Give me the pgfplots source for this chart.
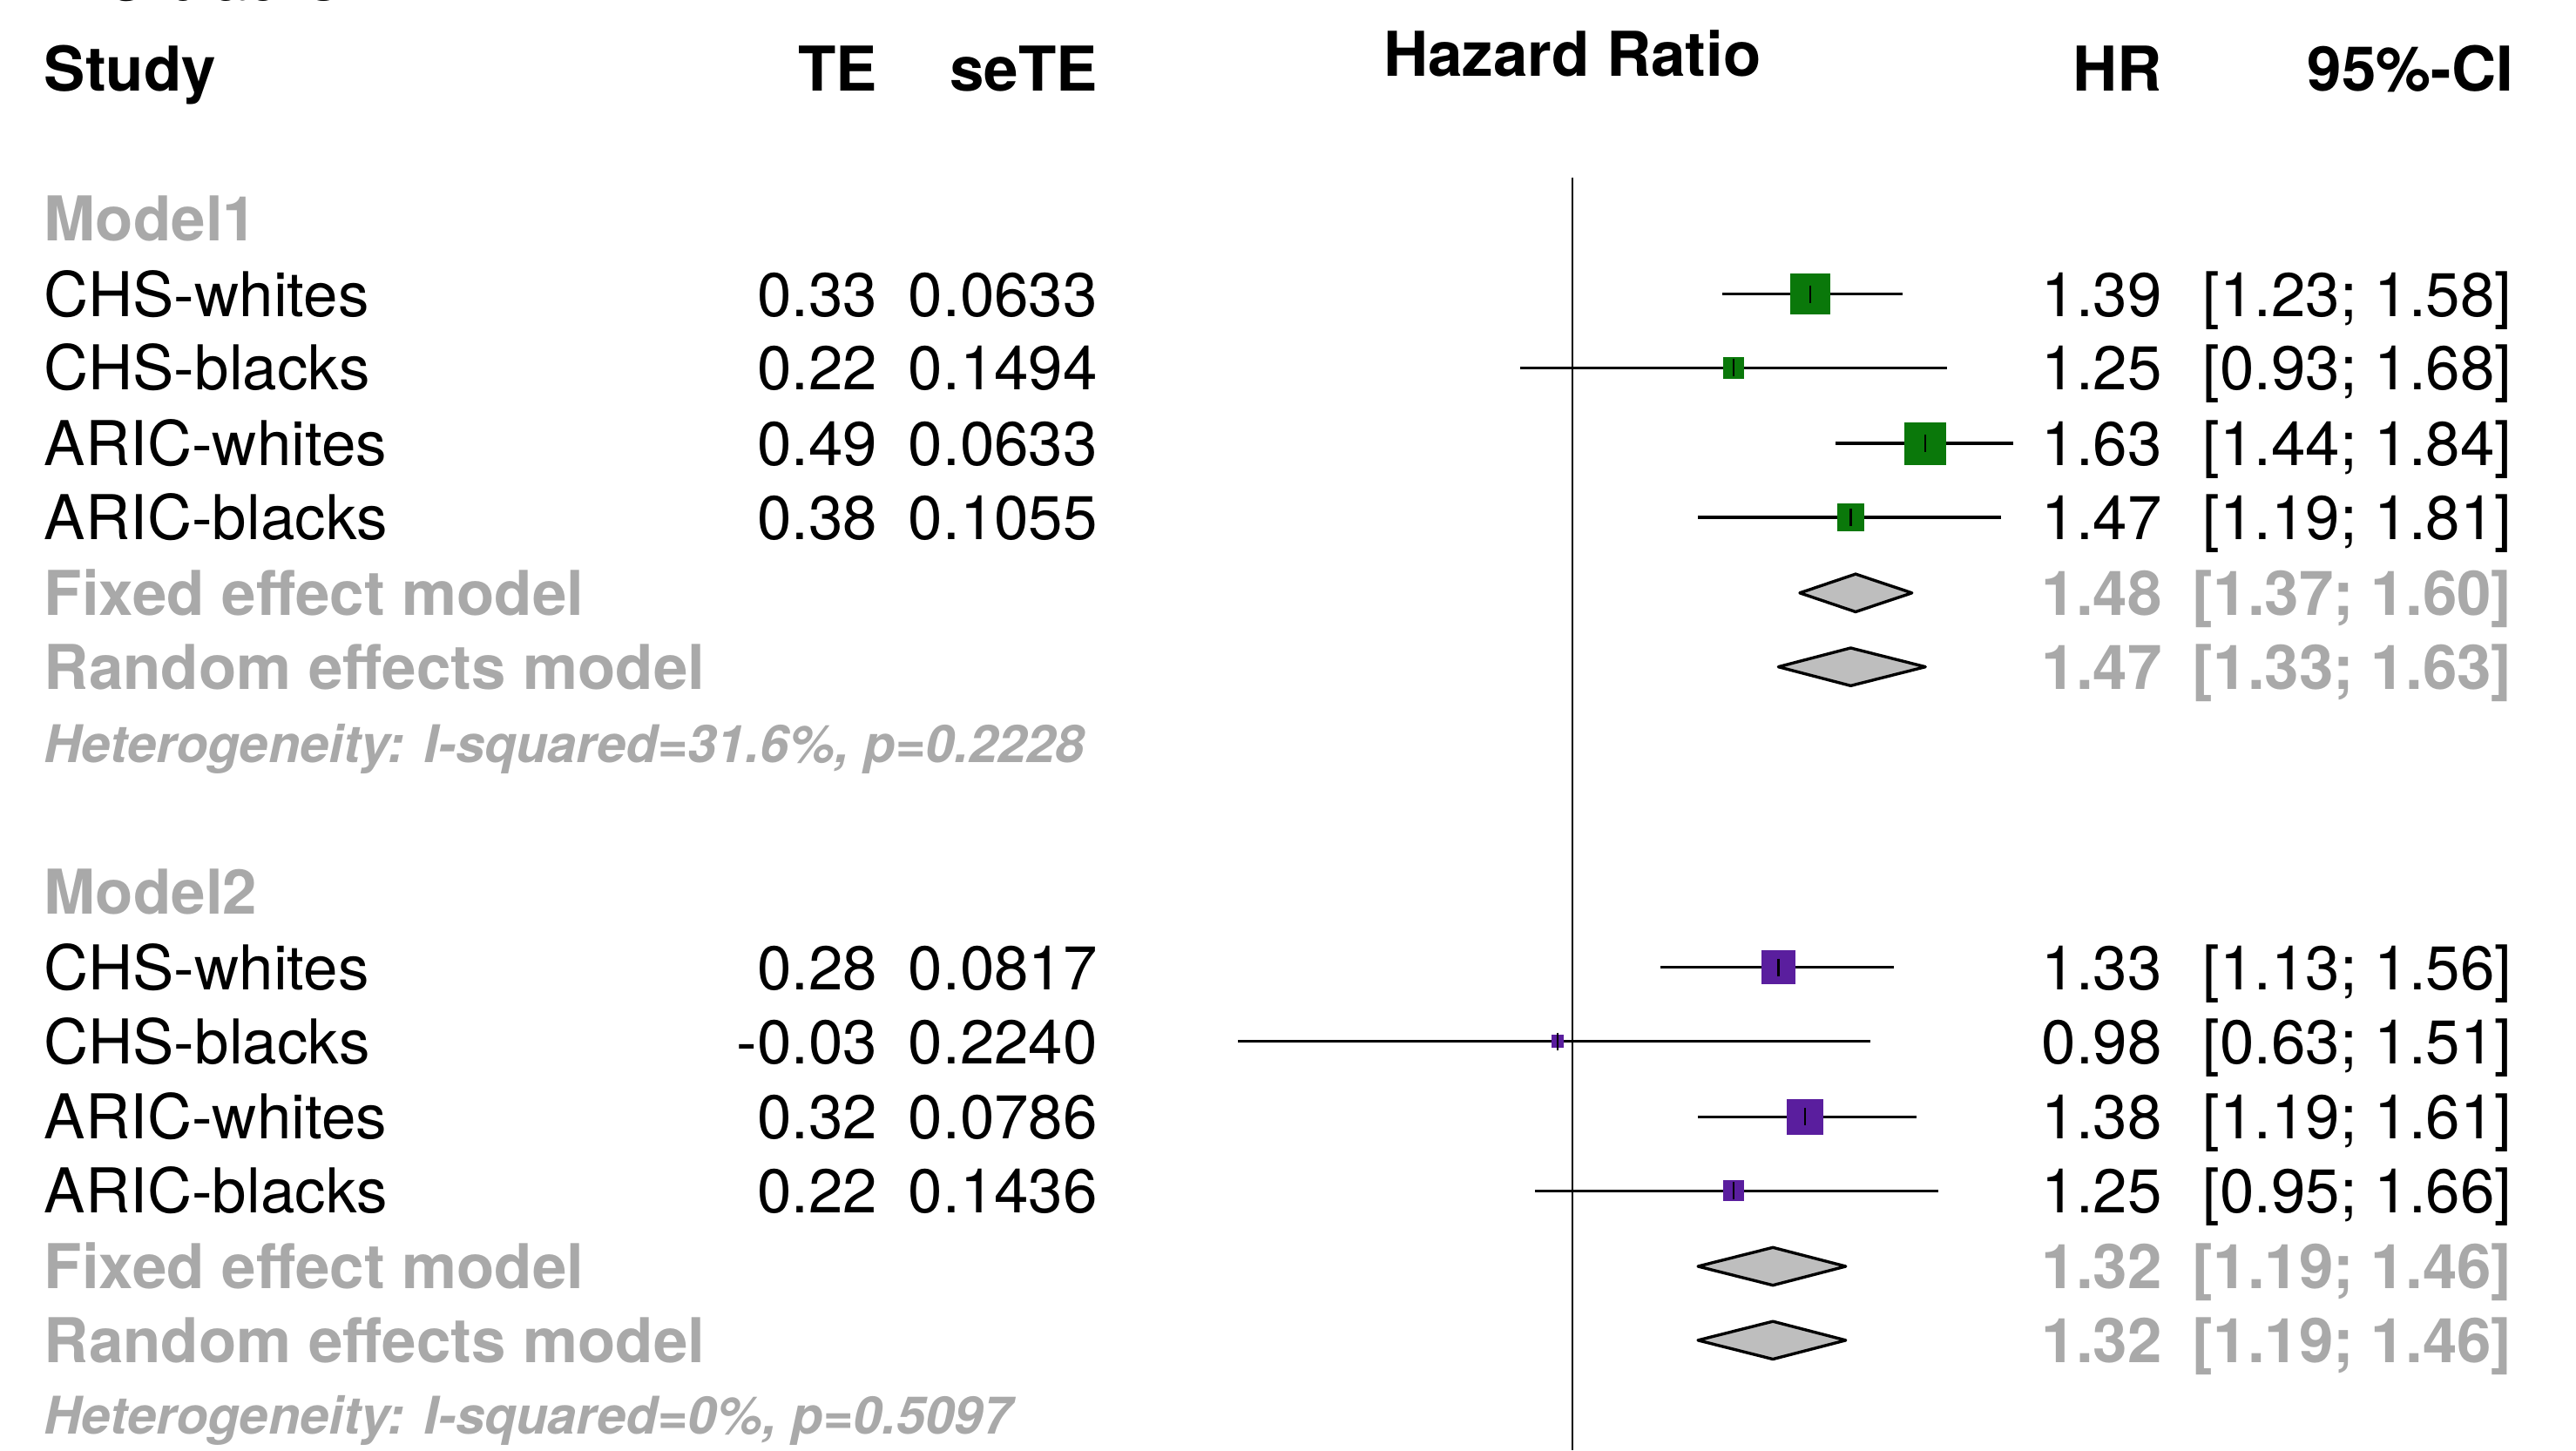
\documentclass[border=0pt]{standalone}
\usepackage{pgfplots}
\pgfplotsset{compat=1.18}
\usepackage{pgfplotstable}
\usepackage{fontspec}
\setmainfont{TeX Gyre Heros}
\definecolor{grn}{HTML}{0A780A}
\definecolor{prp}{HTML}{5A1E9E}
\definecolor{gtxt}{HTML}{A9A9A9}
\definecolor{dfill}{HTML}{BEBEBE}
\newcommand{\fs}{\fontsize{18.8}{22}\selectfont}
\newcommand{\fh}{\fontsize{15.8}{18}\selectfont}

% Model 1 studies: HR, CI, row position (y, downward), marker half-size (pt)
\pgfplotstableread{
hr   lo   hi   y   ms
1.39 1.23 1.58 179 6.0
1.25 0.93 1.68 224 3.0
1.63 1.44 1.84 270 6.25
1.47 1.19 1.81 315 4.0
}\mA
% Model 2 studies
\pgfplotstableread{
hr   lo   hi   y   ms
1.33 1.13 1.56 589 5.0
0.98 0.63 1.51 634 1.75
1.38 1.19 1.61 680 5.25
1.25 0.95 1.66 725 3.0
}\mB

\tikzset{t/.style={inner sep=0pt, outer sep=0pt, font=\fs}}
\newcommand{\studyrow}[6]{%
  \node[t, anchor=base west] at (axis cs:27,#1) {#2};
  \node[t, anchor=base east] at (axis cs:534,#1) {#3};
  \node[t, anchor=base east] at (axis cs:668,#1) {#4};
  \node[t, anchor=base east] at (axis cs:1316,#1) {#5};
  \node[t, anchor=base east] at (axis cs:1529,#1) {#6};
}
\newcommand{\sumrow}[4]{%
  \node[t, anchor=base west, text=gtxt, font=\fs\bfseries] at (axis cs:27,#1) {#2};
  \node[t, anchor=base east, text=gtxt, font=\fs\bfseries] at (axis cs:1316,#1) {#3};
  \node[t, anchor=base east, text=gtxt, font=\fs\bfseries] at (axis cs:1529,#1) {#4};
}
\newcommand{\ci}[3]{\addplot[black, line width=0.9pt] coordinates {(#1,#3) (#2,#3)};}
\newcommand{\diam}[4]{\addplot[fill=dfill, draw=black, line width=0.9pt, line join=round]
  coordinates {(#2,#4) (#1,#4-11.5) (#3,#4) (#1,#4+11.5)} -- cycle;}

\begin{document}
\begin{tikzpicture}
\useasboundingbox (0,0) rectangle (784pt,441.5pt);
\pgfplotsset{base/.style={scale only axis, width=784pt, height=441.5pt,
  at={(0,0)}, anchor=south west, hide axis, xtick=\empty, ytick=\empty,
  ymin=0, ymax=883, y dir=reverse, clip=false}}

% forest part
\begin{axis}[base, xmode=log, xmin=0.113609, xmax=4.00938]
  \addplot[black, line width=0.5pt] coordinates {(1,108) (1,883)};
  % study squares
  \addplot[scatter, only marks, mark=square*,
    scatter/use mapped color={draw=grn, fill=grn},
    visualization depends on={\thisrow{ms} \as \msz},
    scatter/@pre marker code/.append style={/tikz/mark size=\msz, /tikz/line width=0.2pt}]
    table[x=hr, y=y] {\mA};
  \addplot[scatter, only marks, mark=square*,
    scatter/use mapped color={draw=prp, fill=prp},
    visualization depends on={\thisrow{ms} \as \msz},
    scatter/@pre marker code/.append style={/tikz/mark size=\msz, /tikz/line width=0.2pt}]
    table[x=hr, y=y] {\mB};
  % confidence intervals
  \ci{1.23}{1.58}{179}
  \ci{0.93}{1.68}{224}
  \ci{1.44}{1.84}{270}
  \ci{1.19}{1.81}{315}
  \ci{1.13}{1.56}{589}
  \ci{0.63}{1.51}{634}
  \ci{1.19}{1.61}{680}
  \ci{0.95}{1.66}{725}
  % centre ticks
  \addplot[only marks, mark=|, mark size=2.65pt, mark options={black, line width=0.6pt}]
    table[x=hr, y=y] {\mA};
  \addplot[only marks, mark=|, mark size=2.65pt, mark options={black, line width=0.6pt}]
    table[x=hr, y=y] {\mB};
  % pooled estimates
  \diam{1.48}{1.37}{1.60}{361}
  \diam{1.47}{1.33}{1.63}{406}
  \diam{1.32}{1.19}{1.46}{771}
  \diam{1.32}{1.19}{1.46}{816}
\end{axis}

% text part
\begin{axis}[base, xmin=0, xmax=1568]
  \node[t, anchor=base west] at (axis cs:0,0.5) {ARIC blacks:};
  \node[t, anchor=base west, font=\fs\bfseries] at (axis cs:27,55.5) {Study};
  \node[t, anchor=base east, font=\fs\bfseries] at (axis cs:534,55.5) {TE};
  \node[t, anchor=base east, font=\fs\bfseries] at (axis cs:668,55.5) {seTE};
  \node[t, anchor=base, font=\fs\bfseries] at (axis cs:957,46.5) {Hazard Ratio};
  \node[t, anchor=base east, font=\fs\bfseries] at (axis cs:1316,55.5) {HR};
  \node[t, anchor=base east, font=\fs\bfseries] at (axis cs:1530,55.5) {95\%-CI};

  \node[t, anchor=base west, text=gtxt, font=\fs\bfseries] at (axis cs:27,146.5) {Model1};
  \studyrow{192.5}{CHS-whites}{0.33}{0.0633}{1.39}{[1.23; 1.58]}
  \studyrow{237.5}{CHS-blacks}{0.22}{0.1494}{1.25}{[0.93; 1.68]}
  \studyrow{283.5}{ARIC-whites}{0.49}{0.0633}{1.63}{[1.44; 1.84]}
  \studyrow{328.5}{ARIC-blacks}{0.38}{0.1055}{1.47}{[1.19; 1.81]}
  \sumrow{374.5}{Fixed effect model}{1.48}{[1.37; 1.60]}
  \sumrow{419.5}{Random effects model}{1.47}{[1.33; 1.63]}
  \node[t, anchor=base west, text=gtxt, font=\fh\bfseries\itshape] at (axis cs:27,464.3)
    {Heterogeneity: I-squared=31.6\%, p=0.2228};

  \node[t, anchor=base west, text=gtxt, font=\fs\bfseries] at (axis cs:27,556.5) {Model2};
  \studyrow{602.5}{CHS-whites}{0.28}{0.0817}{1.33}{[1.13; 1.56]}
  \studyrow{647.5}{CHS-blacks}{-0.03}{0.2240}{0.98}{[0.63; 1.51]}
  \studyrow{693.5}{ARIC-whites}{0.32}{0.0786}{1.38}{[1.19; 1.61]}
  \studyrow{738.5}{ARIC-blacks}{0.22}{0.1436}{1.25}{[0.95; 1.66]}
  \sumrow{784.5}{Fixed effect model}{1.32}{[1.19; 1.46]}
  \sumrow{829.5}{Random effects model}{1.32}{[1.19; 1.46]}
  \node[t, anchor=base west, text=gtxt, font=\fh\bfseries\itshape] at (axis cs:27,873.3)
    {Heterogeneity: I-squared=0\%, p=0.5097};
\end{axis}
\end{tikzpicture}
\end{document}
